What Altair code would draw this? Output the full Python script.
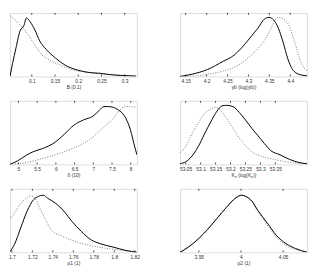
import altair as alt
import pandas as pd

# ---------------- data ----------------
# Panel 1: B (0.1)
p1_sx = [0.0531, 0.0585, 0.066, 0.0748, 0.083, 0.0884, 0.0966, 0.1068, 0.117, 0.1306, 0.151, 0.1714, 0.1986, 0.2259, 0.2463, 0.2667, 0.2939, 0.3245]
p1_sy = [0.0, 0.2, 0.45, 0.72, 0.80, 0.92, 0.86, 0.73, 0.56, 0.43, 0.29, 0.18, 0.10, 0.06, 0.05, 0.03, 0.015, 0.005]
p1_dx = [0.0531, 0.0626, 0.0762, 0.0898, 0.1034, 0.117, 0.1374, 0.1578, 0.185, 0.219, 0.2531, 0.2871, 0.3245]
p1_dy = [0.96, 0.90, 0.80, 0.68, 0.53, 0.38, 0.26, 0.19, 0.11, 0.065, 0.04, 0.02, 0.01]
p1_ticks = [0.1, 0.15, 0.2, 0.25, 0.3]
p1_domain = [0.053, 0.3265]

# Panel 2: gamma_b
p2_sx = [4.1365, 4.165, 4.2026, 4.2401, 4.2627, 4.2852, 4.3077, 4.3227, 4.3377, 4.349, 4.3603, 4.3715, 4.3828, 4.394, 4.4053, 4.4203, 4.44]
p2_sy = [0.0, 0.035, 0.11, 0.24, 0.32, 0.46, 0.64, 0.76, 0.90, 0.93, 0.89, 0.76, 0.54, 0.28, 0.11, 0.035, 0.01]
p2_dx = [4.1365, 4.18, 4.2026, 4.2401, 4.2777, 4.3152, 4.3377, 4.3528, 4.364, 4.3715, 4.3828, 4.3978, 4.4128, 4.4279, 4.44]
p2_dy = [0.0, 0.01, 0.035, 0.085, 0.185, 0.39, 0.56, 0.74, 0.89, 0.93, 0.91, 0.79, 0.49, 0.19, 0.085]
p2_ticks = [4.15, 4.2, 4.25, 4.3, 4.35, 4.4]
p2_domain = [4.1365, 4.44]

# Panel 3: delta (10)
p3_sx = [4.773, 4.975, 5.227, 5.395, 5.647, 5.983, 6.235, 6.487, 6.739, 6.992, 7.16, 7.286, 7.412, 7.664, 7.874, 8.0, 8.084, 8.168]
p3_sy = [0.0, 0.055, 0.15, 0.2, 0.25, 0.35, 0.48, 0.62, 0.70, 0.76, 0.85, 0.91, 0.91, 0.86, 0.72, 0.53, 0.33, 0.15]
p3_dx = [4.773, 5.227, 5.563, 5.983, 6.403, 6.739, 6.992, 7.244, 7.496, 7.706, 7.832, 8.0, 8.168]
p3_dy = [0.0, 0.03, 0.08, 0.15, 0.24, 0.33, 0.43, 0.57, 0.70, 0.85, 0.91, 0.91, 0.89]
p3_ticks = [5, 5.5, 6, 6.5, 7, 7.5, 8]
p3_domain = [4.773, 8.168]

# Panel 4: K_p
p4_sx = [53.031, 53.05, 53.071, 53.092, 53.113, 53.134, 53.155, 53.171, 53.187, 53.208, 53.229, 53.25, 53.271, 53.292, 53.313, 53.334, 53.366, 53.397, 53.429, 53.456]
p4_sy = [0.01, 0.04, 0.13, 0.28, 0.48, 0.67, 0.84, 0.92, 0.93, 0.91, 0.82, 0.70, 0.57, 0.45, 0.33, 0.22, 0.15, 0.08, 0.03, 0.01]
p4_dx = [53.031, 53.05, 53.071, 53.092, 53.113, 53.134, 53.15, 53.166, 53.187, 53.208, 53.229, 53.25, 53.271, 53.303, 53.345, 53.387, 53.456]
p4_dy = [0.18, 0.28, 0.48, 0.65, 0.80, 0.87, 0.90, 0.85, 0.72, 0.57, 0.42, 0.30, 0.20, 0.13, 0.08, 0.04, 0.01]
p4_ticks = [53.05, 53.1, 53.15, 53.2, 53.25, 53.3, 53.35]
p4_domain = [53.031, 53.456]

# Panel 5: p1 (1)
p5_sx = [1.6981, 1.7025, 1.7087, 1.7149, 1.7212, 1.7258, 1.7305, 1.7351, 1.7429, 1.7507, 1.7585, 1.7678, 1.7771, 1.7865, 1.7989, 1.8114, 1.8222]
p5_sy = [0.01, 0.125, 0.39, 0.65, 0.83, 0.88, 0.90, 0.85, 0.77, 0.65, 0.49, 0.33, 0.20, 0.135, 0.083, 0.03, 0.0]
p5_dx = [1.6981, 1.7025, 1.7087, 1.7149, 1.7187, 1.7227, 1.7274, 1.7336, 1.7398, 1.7491, 1.7585, 1.774, 1.7896, 1.8051, 1.8222]
p5_dy = [0.52, 0.62, 0.77, 0.86, 0.89, 0.85, 0.69, 0.49, 0.33, 0.255, 0.19, 0.115, 0.07, 0.035, 0.01]
p5_ticks = [1.7, 1.72, 1.74, 1.76, 1.78, 1.8, 1.82]
p5_domain = [1.6981, 1.8222]

# Panel 6: p2 (1)
p6_sx = [3.9276, 3.938, 3.9493, 3.9604, 3.9716, 3.9828, 3.994, 4.0, 4.0052, 4.0127, 4.0201, 4.0313, 4.0425, 4.0537, 4.0649, 4.0784]
p6_sy = [0.0, 0.085, 0.21, 0.36, 0.535, 0.71, 0.86, 0.90, 0.885, 0.81, 0.66, 0.46, 0.26, 0.135, 0.06, 0.0]
p6_dx = [3.9276, 3.938, 3.9493, 3.9604, 3.9716, 3.9828, 3.994, 4.0, 4.0052, 4.0127, 4.0201, 4.0313, 4.0425, 4.0537, 4.0649, 4.0784]
p6_dy = [0.01, 0.10, 0.22, 0.37, 0.54, 0.71, 0.85, 0.89, 0.88, 0.80, 0.64, 0.43, 0.23, 0.11, 0.045, 0.01]
p6_ticks = [3.95, 4, 4.05]
p6_domain = [3.9276, 4.0784]

titles = ["B (0.1)", "γb (log(γb))", "δ (10)", "Kₚ (log(Kₚ))", "p1 (1)", "p2 (1)"]

W, H = 130, 65
FONT = "Liberation Sans"


def panel(sx, sy, dx, dy, ticks, domain, title):
    xscale = alt.Scale(domain=domain, nice=False, zero=False)
    yscale = alt.Scale(domain=[0, 1], nice=False, zero=True)
    xaxis = alt.Axis(values=ticks, labelExpr="format(datum.value, '.6~g')", title=title,
                     ticks=False, domain=False, grid=False, labelFontSize=5,
                     titleFontSize=5, labelPadding=2, titlePadding=1, labelFont=FONT,
                     titleFont=FONT, titleFontWeight="normal", labelColor="#333",
                     titleColor="#333", labelOverlap=False, labelBound=False,
                     labelSeparation=0)
    dotted = alt.Chart(pd.DataFrame({"x": dx, "y": dy})).mark_line(
        color="#777", strokeWidth=1, strokeDash=[1, 1.6], interpolate="monotone", clip=True
    ).encode(x=alt.X("x:Q", scale=xscale, axis=xaxis),
             y=alt.Y("y:Q", scale=yscale, axis=None))
    solid = alt.Chart(pd.DataFrame({"x": sx, "y": sy})).mark_line(
        color="black", strokeWidth=1, interpolate="monotone", clip=True
    ).encode(x=alt.X("x:Q", scale=xscale, axis=xaxis),
             y=alt.Y("y:Q", scale=yscale, axis=None))
    tdf = pd.DataFrame({"t": ticks})
    bottom = alt.Chart(tdf).mark_rule(color="black", strokeWidth=0.7).encode(
        x=alt.X("t:Q", scale=xscale, axis=xaxis), y=alt.value(H), y2=alt.value(H - 2))
    top = alt.Chart(tdf).mark_rule(color="black", strokeWidth=0.7).encode(
        x=alt.X("t:Q", scale=xscale, axis=xaxis), y=alt.value(0), y2=alt.value(2))
    return alt.layer(dotted, solid, bottom, top).properties(width=W, height=H)


panels = [
    panel(p1_sx, p1_sy, p1_dx, p1_dy, p1_ticks, p1_domain, titles[0]),
    panel(p2_sx, p2_sy, p2_dx, p2_dy, p2_ticks, p2_domain, titles[1]),
    panel(p3_sx, p3_sy, p3_dx, p3_dy, p3_ticks, p3_domain, titles[2]),
    panel(p4_sx, p4_sy, p4_dx, p4_dy, p4_ticks, p4_domain, titles[3]),
    panel(p5_sx, p5_sy, p5_dx, p5_dy, p5_ticks, p5_domain, titles[4]),
    panel(p6_sx, p6_sy, p6_dx, p6_dy, p6_ticks, p6_domain, titles[5]),
]

chart = alt.concat(
    *panels, columns=2, spacing={"row": 25, "column": 44}, bounds="flush"
).properties(
    padding={"left": 0, "top": 1, "right": 0, "bottom": 0}
).resolve_scale(x="independent", y="independent").configure_view(
    stroke="black", strokeWidth=1
).configure_axis(labelOverlap=False).configure(background="white")

chart.save("out.html", embed_options={"renderer": "svg", "actions": False})
